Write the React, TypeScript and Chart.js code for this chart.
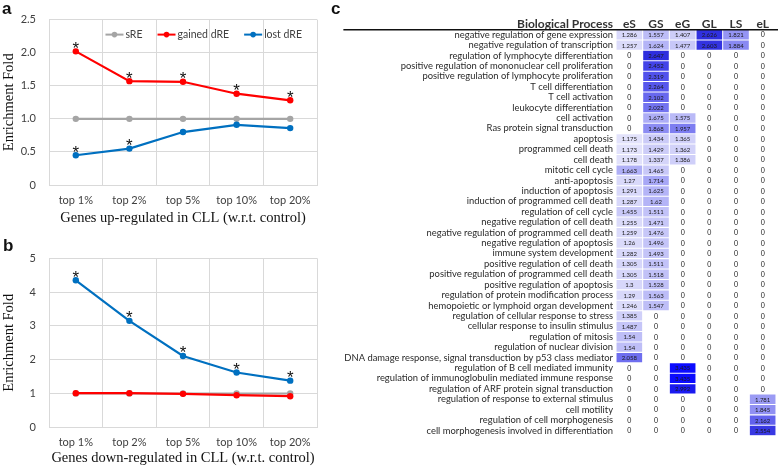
import React, { useEffect, useRef } from 'react';
import { Chart, registerables } from 'chart.js';

Chart.register(...registerables);

// ---------- data: panels a & b ----------
const groupLabels = ['top 1%', 'top 2%', 'top 5%', 'top 10%', 'top 20%'];
const seriesNames = ['sRE', 'gained dRE', 'lost dRE'];

const upSRE = [1, 1, 1, 1, 1];
const upGained = [2.02, 1.57, 1.56, 1.38, 1.28];
const upLost = [0.45, 0.55, 0.8, 0.91, 0.86];
const upGainedSig = [true, true, true, true, true];
const upLostSig = [true, true, false, false, false];

const downSRE = [1, 1, 1, 1, 1];
const downGained = [1.01, 1.01, 0.99, 0.95, 0.92];
const downLost = [4.35, 3.15, 2.11, 1.62, 1.38];
const downGainedSig = [false, false, false, false, false];
const downLostSig = [true, true, true, true, true];

const upTitle = 'Genes up-regulated in CLL (w.r.t. control)';
const downTitle = 'Genes down-regulated in CLL (w.r.t. control)';
const yTitle = 'Enrichment Fold';

// ---------- data: panel c ----------
const bpHeader = 'Biological Process';
const bpColumns = ['eS', 'GS', 'eG', 'GL', 'LS', 'eL'];
const bpProcesses = [
  'negative regulation of gene expression',
  'negative regulation of transcription',
  'regulation of lymphocyte differentiation',
  'positive regulation of mononuclear cell proliferation',
  'positive regulation of lymphocyte proliferation',
  'T cell differentiation',
  'T cell activation',
  'leukocyte differentiation',
  'cell activation',
  'Ras protein signal transduction',
  'apoptosis',
  'programmed cell death',
  'cell death',
  'mitotic cell cycle',
  'anti-apoptosis',
  'induction of apoptosis',
  'induction of programmed cell death',
  'regulation of cell cycle',
  'negative regulation of cell death',
  'negative regulation of programmed cell death',
  'negative regulation of apoptosis',
  'immune system development',
  'positive regulation of cell death',
  'positive regulation of programmed cell death',
  'positive regulation of apoptosis',
  'regulation of protein modification process',
  'hemopoietic or lymphoid organ development',
  'regulation of cellular response to stress',
  'cellular response to insulin stimulus',
  'regulation of mitosis',
  'regulation of nuclear division',
  'DNA damage response, signal transduction by p53 class mediator',
  'regulation of B cell mediated immunity',
  'regulation of immunoglobulin mediated immune response',
  'regulation of ARF protein signal transduction',
  'regulation of response to external stimulus',
  'cell motility',
  'regulation of cell morphogenesis',
  'cell morphogenesis involved in differentiation',
];
const colES = [1.286, 1.257, 0, 0, 0, 0, 0, 0, 0, 0, 1.175, 1.173, 1.178, 1.663, 1.27, 1.291, 1.287, 1.455, 1.255, 1.259, 1.26, 1.282, 1.305, 1.305, 1.3, 1.29, 1.246, 1.385, 1.487, 1.54, 1.54, 2.058, 0, 0, 0, 0, 0, 0, 0];
const colGS = [1.557, 1.624, 2.647, 2.452, 2.319, 2.264, 2.102, 2.022, 1.675, 1.868, 1.434, 1.429, 1.337, 1.465, 1.714, 1.625, 1.62, 1.511, 1.471, 1.476, 1.496, 1.493, 1.511, 1.518, 1.528, 1.563, 1.547, 0, 0, 0, 0, 0, 0, 0, 0, 0, 0, 0, 0];
const colEG = [1.407, 1.477, 0, 0, 0, 0, 0, 0, 1.575, 1.957, 1.365, 1.362, 1.386, 0, 0, 0, 0, 0, 0, 0, 0, 0, 0, 0, 0, 0, 0, 0, 0, 0, 0, 0, 3.435, 3.435, 2.992, 0, 0, 0, 0];
const colGL = [2.626, 2.603, 0, 0, 0, 0, 0, 0, 0, 0, 0, 0, 0, 0, 0, 0, 0, 0, 0, 0, 0, 0, 0, 0, 0, 0, 0, 0, 0, 0, 0, 0, 0, 0, 0, 0, 0, 0, 0];
const colLS = [1.821, 1.884, 0, 0, 0, 0, 0, 0, 0, 0, 0, 0, 0, 0, 0, 0, 0, 0, 0, 0, 0, 0, 0, 0, 0, 0, 0, 0, 0, 0, 0, 0, 0, 0, 0, 0, 0, 0, 0];
const colEL = [0, 0, 0, 0, 0, 0, 0, 0, 0, 0, 0, 0, 0, 0, 0, 0, 0, 0, 0, 0, 0, 0, 0, 0, 0, 0, 0, 0, 0, 0, 0, 0, 0, 0, 0, 1.781, 1.845, 2.162, 2.554];
const bpValues = [colES, colGS, colEG, colGL, colLS, colEL];

// ---------- styles ----------
const GRAY = '#a5a5a5';
const RED = '#ff0000';
const BLUE = '#0070c0';
const GRID = '#d9d9d9';
const SANS = 'Lato, "Liberation Sans", sans-serif';
const SERIF = '"Liberation Serif", serif';

const heatStops: [number, number[]][] = [
  [1.1, [232, 232, 252]],
  [1.45, [202, 202, 248]],
  [1.7, [170, 170, 246]],
  [1.9, [134, 134, 242]],
  [2.1, [104, 104, 238]],
  [2.4, [72, 72, 235]],
  [2.65, [46, 46, 222]],
  [3.0, [26, 26, 240]],
  [3.45, [12, 12, 255]],
];
function heat(v: number): string {
  if (v <= heatStops[0][0]) return `rgb(${heatStops[0][1].join(',')})`;
  for (let i = 1; i < heatStops.length; i++) {
    const [v1, c1] = heatStops[i];
    const [v0, c0] = heatStops[i - 1];
    if (v <= v1) {
      const t = (v - v0) / (v1 - v0);
      const c = c0.map((a, k) => Math.round(a + (c1[k] - a) * t));
      return `rgb(${c.join(',')})`;
    }
  }
  return `rgb(${heatStops[heatStops.length - 1][1].join(',')})`;
}

// ---------- plugins ----------
const excelLegend = {
  id: 'excelLegend',
  afterDatasetsDraw(chart: any, _args: any, opts: any) {
    if (!opts || !opts.display) return;
    const { ctx, chartArea } = chart;
    ctx.save();
    ctx.font = opts.font;
    const markerW = 18;
    const gapText = 2;
    const gapItem = 15;
    const items = chart.data.datasets.map((ds: any) => ({ text: ds.label, color: ds.borderColor }));
    const widths = items.map((it: any) => markerW + gapText + ctx.measureText(it.text).width);
    const total = widths.reduce((a: number, b: number) => a + b, 0) + gapItem * (items.length - 1);
    let x = chartArea.right - opts.rightInset - total;
    const y = chartArea.top + opts.topInset;
    items.forEach((it: any, i: number) => {
      ctx.strokeStyle = it.color;
      ctx.fillStyle = it.color;
      ctx.lineWidth = 2;
      ctx.beginPath();
      ctx.moveTo(x, y);
      ctx.lineTo(x + markerW, y);
      ctx.stroke();
      ctx.beginPath();
      ctx.arc(x + markerW / 2, y, 2.8, 0, Math.PI * 2);
      ctx.fill();
      ctx.fillStyle = '#404040';
      ctx.textBaseline = 'middle';
      ctx.textAlign = 'left';
      ctx.fillText(it.text, x + markerW + gapText, y + 0.5);
      x += widths[i] + gapItem;
    });
    ctx.restore();
  },
};

const sigStars = {
  id: 'sigStars',
  afterDatasetsDraw(chart: any, _args: any, opts: any) {
    if (!opts || !opts.marks) return;
    const ctx = chart.ctx;
    ctx.save();
    ctx.font = opts.font;
    ctx.fillStyle = '#111';
    ctx.textAlign = 'center';
    ctx.textBaseline = 'alphabetic';
    opts.marks.forEach((marks: boolean[] | null, i: number) => {
      if (!marks) return;
      const meta = chart.getDatasetMeta(i);
      meta.data.forEach((pt: any, j: number) => {
        if (marks[j]) ctx.fillText('*', pt.x, pt.y + opts.dy);
      });
    });
    ctx.restore();
  },
};

const cellText = {
  id: 'cellText',
  afterDatasetsDraw(chart: any, _args: any, opts: any) {
    const ctx = chart.ctx;
    ctx.save();
    ctx.textAlign = 'center';
    ctx.textBaseline = 'middle';
    ctx.fillStyle = '#1a1a1a';
    chart.data.datasets.forEach((_ds: any, j: number) => {
      const meta = chart.getDatasetMeta(j);
      meta.data.forEach((bar: any, i: number) => {
        const v = bpValues[j][i];
        ctx.font = v === 0 ? opts.zeroFont : opts.font;
        const cx = (bar.x + bar.base) / 2;
        ctx.fillText(v === 0 ? '0' : String(v), cx, bar.y + 0.5);
      });
    });
    ctx.restore();
  },
};

const tableHeader = {
  id: 'tableHeader',
  afterDraw(chart: any, _args: any, opts: any) {
    const { ctx, chartArea } = chart;
    const yScale = chart.scales.y;
    ctx.save();
    ctx.font = opts.labelFont;
    let maxW = 0;
    chart.data.labels.forEach((l: string) => {
      maxW = Math.max(maxW, ctx.measureText(l).width);
    });
    const textRight = yScale.right - opts.labelPad;
    ctx.font = opts.headerFont;
    ctx.fillStyle = '#333';
    ctx.textAlign = 'right';
    ctx.textBaseline = 'middle';
    ctx.fillText(bpHeader, textRight, chartArea.top - opts.headerDy);
    ctx.strokeStyle = '#111';
    ctx.lineWidth = 1.6;
    ctx.beginPath();
    ctx.moveTo(textRight - maxW - 1, chartArea.top + 0.3);
    ctx.lineTo(chart.width, chartArea.top + 0.3);
    ctx.stroke();
    ctx.restore();
  },
};

// ---------- configs ----------
function lineConfig(p: {
  sre: number[]; gained: number[]; lost: number[];
  gainedSig: boolean[]; lostSig: boolean[];
  max: number; step: number; title: string; legend: boolean;
  padTop: number; xHeight: number; xTickPad: number; xTitlePad: number;
}) {
  const ds = (label: string, data: number[], color: string, order: number) => ({
    label, data, borderColor: color, backgroundColor: color, order,
    borderWidth: 2.2, pointRadius: 3.2, pointBorderWidth: 0, pointHoverRadius: 3.2, tension: 0,
  });
  return {
    type: 'line',
    data: {
      labels: groupLabels,
      datasets: [
        ds(seriesNames[0], p.sre, GRAY, 2),
        ds(seriesNames[1], p.gained, RED, 1),
        ds(seriesNames[2], p.lost, BLUE, 0),
      ],
    },
    options: {
      responsive: false,
      animation: false,
      events: [],
      layout: { padding: { top: p.padTop, right: 13, bottom: 0, left: 0 } },
      scales: {
        x: {
          offset: true,
          grid: { offset: true, color: GRID, drawTicks: false },
          border: { color: GRID },
          ticks: { font: { family: SANS, size: 11 }, color: '#404040', padding: p.xTickPad, maxRotation: 0 },
          title: {
            display: true, text: p.title, color: '#111',
            font: { family: SERIF, size: 14.5 }, padding: { top: 0, bottom: p.xTitlePad },
          },
          afterFit: (s: any) => { s.height = p.xHeight; },
        },
        y: {
          min: 0, max: p.max,
          ticks: { stepSize: p.step, font: { family: SANS, size: 11 }, color: '#404040', padding: 13 },
          grid: { color: GRID, drawTicks: false },
          border: { color: GRID },
          title: {
            display: true, text: yTitle, color: '#111',
            font: { family: SERIF, size: 14.5 }, padding: { top: 0, bottom: 0 },
          },
          afterFit: (s: any) => { s.width = 49; },
        },
      },
      plugins: {
        legend: { display: false },
        tooltip: { enabled: false },
        excelLegend: { display: p.legend, font: `10.5px ${SANS}`, rightInset: 15, topInset: 15 },
        sigStars: { marks: [null, p.gainedSig, p.lostSig], font: `17px "Liberation Sans", sans-serif`, dy: 2.5 },
      },
    },
    plugins: [excelLegend, sigStars],
  };
}

function tableConfig() {
  const labelFont = { family: SANS, size: 9.4 };
  return {
    type: 'bar',
    data: {
      labels: bpProcesses,
      datasets: bpColumns.map((name, j) => ({
        label: name,
        data: bpValues[j].map(() => [j + 0.02, j + 0.98]),
        backgroundColor: bpValues[j].map((v) => (v > 0 ? heat(v) : 'rgba(0,0,0,0)')),
        borderWidth: 0,
        grouped: false,
        barPercentage: 0.9,
        categoryPercentage: 1,
      })),
    },
    options: {
      indexAxis: 'y',
      responsive: false,
      animation: false,
      events: [],
      layout: { padding: { top: 0, right: 2, bottom: 31.3, left: 0 } },
      scales: {
        x: {
          type: 'linear',
          position: 'top',
          min: 0,
          max: bpColumns.length,
          afterBuildTicks: (s: any) => {
            s.ticks = bpColumns.map((_, j) => ({ value: j + 0.5 }));
          },
          ticks: {
            callback: (_v: any, i: number) => bpColumns[i],
            font: { family: SANS, size: 12, weight: 'bold' },
            color: '#333',
            padding: -1.7,
            maxRotation: 0,
            autoSkip: false,
          },
          grid: { display: false, drawTicks: false },
          border: { display: false },
          afterFit: (s: any) => { s.height = 29.5; },
        },
        y: {
          type: 'category',
          grid: { display: false, drawTicks: false },
          border: { display: false },
          ticks: { autoSkip: false, font: labelFont, color: '#2a2a2a', padding: 3 },
          afterFit: (s: any) => { s.width = 286; },
        },
      },
      plugins: {
        legend: { display: false },
        tooltip: { enabled: false },
        cellText: { font: `6px ${SANS}`, zeroFont: `7px ${SANS}` },
        tableHeader: {
          labelFont: `9.4px ${SANS}`, labelPad: 3,
          headerFont: `bold 12px ${SANS}`, headerDy: 5.5,
        },
      },
    },
    plugins: [cellText, tableHeader],
  };
}

function ChartCanvas({ config, left, top, width, height }: any) {
  const ref = useRef<HTMLCanvasElement | null>(null);
  useEffect(() => {
    if (!ref.current) return;
    const chart = new Chart(ref.current, config());
    return () => chart.destroy();
  }, []);
  return (
    <canvas
      ref={ref}
      width={width}
      height={height}
      style={{ position: 'absolute', left, top, width, height, display: 'block' }}
    />
  );
}

const letterStyle: React.CSSProperties = {
  position: 'absolute',
  font: 'bold 17px "Liberation Sans", Arial, sans-serif',
  color: '#111',
  lineHeight: '17px',
};

export default function App() {
  return (
    <div style={{ position: 'absolute', left: 0, top: 0, width: 778, height: 467, background: '#fff', overflow: 'hidden' }}>
      <ChartCanvas
        left={0} top={0} width={330} height={230}
        config={() => lineConfig({
          sre: upSRE, gained: upGained, lost: upLost,
          gainedSig: upGainedSig, lostSig: upLostSig,
          max: 2.5, step: 0.5, title: upTitle, legend: true,
          padTop: 17, xHeight: 45, xTickPad: 8.4, xTitlePad: 3.6,
        })}
      />
      <ChartCanvas
        left={0} top={230} width={330} height={237}
        config={() => lineConfig({
          sre: downSRE, gained: downGained, lost: downLost,
          gainedSig: downGainedSig, lostSig: downLostSig,
          max: 5, step: 1, title: downTitle, legend: false,
          padTop: 28.3, xHeight: 39.7, xTickPad: 8.1, xTitlePad: 0,
        })}
      />
      <ChartCanvas left={330} top={0} width={448} height={467} config={tableConfig} />
      <div style={{ ...letterStyle, left: 2, top: 0 }}>a</div>
      <div style={{ ...letterStyle, left: 3, top: 237 }}>b</div>
      <div style={{ ...letterStyle, left: 331, top: 0 }}>c</div>
    </div>
  );
}
